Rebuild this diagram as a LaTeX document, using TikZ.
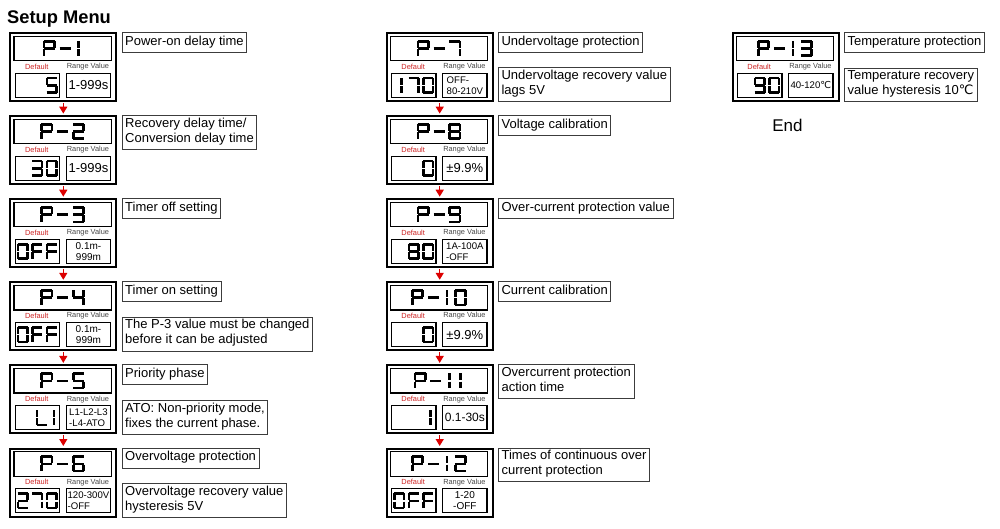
\documentclass[tikz,border=0pt]{standalone}
\usepackage{fontspec}
\setmainfont{Liberation Sans}
\newfontfamily\symfont{DejaVu Sans}
\usetikzlibrary{
	arrows.meta,
	positioning
}
\definecolor{FlowRed}{RGB}{220,0,0}
\definecolor{LabelRed}{RGB}{205,35,35}
\definecolor{LabelGray}{RGB}{70,70,70}
\definecolor{NoteGray}{RGB}{60,60,60}

% 七段显示：单个笔画
\newcommand{\lcdsega}{\draw[lcdline] (1.0,1.3) -- (11.0,1.3);}
\newcommand{\lcdsegb}{\draw[lcdline] (10.7,1.0) -- (10.7,7.8);}
\newcommand{\lcdsegc}{\draw[lcdline] (10.7,9.2) -- (10.7,16.0);}
\newcommand{\lcdsegd}{\draw[lcdline] (1.0,15.7) -- (11.0,15.7);}
\newcommand{\lcdsege}{\draw[lcdline] (1.3,9.2) -- (1.3,16.0);}
\newcommand{\lcdsegf}{\draw[lcdline] (1.3,1.0) -- (1.3,7.8);}
\newcommand{\lcdsegg}{\draw[lcdline] (1.0,8.5) -- (11.0,8.5);}
\newcommand{\lcdsegi}{\draw[lcdline] (3.6,1.0) -- (3.6,7.8) (3.6,9.2) -- (3.6,16.0);}

% 字符：名称 / 步进 / 笔画
\newcommand{\lcddef}[3]{%
	\expandafter\def\csname lcdg#1\endcsname{#3}%
	\expandafter\def\csname lcdw#1\endcsname{#2}}
\lcddef{P}{14.5}{\lcdsega\lcdsegb\lcdsegf\lcdsegg\lcdsege}
\lcddef{-}{14.5}{\lcdsegg}
\lcddef{0}{14.5}{\lcdsega\lcdsegb\lcdsegc\lcdsegd\lcdsege\lcdsegf}
\lcddef{1}{10}{\lcdsegi}
\lcddef{2}{14.5}{\lcdsega\lcdsegb\lcdsegg\lcdsege\lcdsegd}
\lcddef{3}{14.5}{\lcdsega\lcdsegb\lcdsegg\lcdsegc\lcdsegd}
\lcddef{4}{14.5}{\lcdsegf\lcdsegg\lcdsegb\lcdsegc}
\lcddef{5}{14.5}{\lcdsega\lcdsegf\lcdsegg\lcdsegc\lcdsegd}
\lcddef{6}{14.5}{\lcdsega\lcdsegf\lcdsegg\lcdsege\lcdsegc\lcdsegd}
\lcddef{7}{14.5}{\lcdsega\lcdsegb\lcdsegc}
\lcddef{8}{14.5}{\lcdsega\lcdsegb\lcdsegc\lcdsegd\lcdsege\lcdsegf\lcdsegg}
\lcddef{9}{14.5}{\lcdsega\lcdsegb\lcdsegc\lcdsegd\lcdsegf\lcdsegg}
\lcddef{F}{14.5}{\lcdsega\lcdsegf\lcdsegg\lcdsege}
\lcddef{L}{14.5}{\lcdsegf\lcdsege\lcdsegd}

% 字符串宽度
\newcommand{\lcdmeasure}[1]{%
	\gdef\lcdtotal{-2.5}%
	\foreach \g in {#1}{%
		\edef\lcdadv{\csname lcdw\g\endcsname}%
		\pgfmathsetmacro\lcdtmp{\lcdtotal+\lcdadv}%
		\global\let\lcdtotal\lcdtmp}}
% 逐字绘制
\newcommand{\lcdrun}[3]{%
	\xdef\lcdx{#1}%
	\foreach \g in {#3}{%
		\begin{scope}[shift={(\lcdx,#2)}]
			\csname lcdg\g\endcsname
		\end{scope}
		\edef\lcdadv{\csname lcdw\g\endcsname}%
		\pgfmathsetmacro\lcdtmp{\lcdx+\lcdadv}%
		\global\let\lcdx\lcdtmp}}
\newcommand{\lcdcenter}[2]{%
	\lcdmeasure{#2}%
	\begin{scope}[shift={(#1)}, xscale=1.1]
		\pgfmathsetmacro\lcdstart{-\lcdtotal/2}
		\lcdrun{\lcdstart}{-8.5}{#2}
	\end{scope}}
\newcommand{\lcdright}[2]{%
	\lcdmeasure{#2}%
	\begin{scope}[shift={(#1)}]
		\pgfmathsetmacro\lcdstart{-2.5-\lcdtotal}
		\lcdrun{\lcdstart}{-8.5}{#2}
	\end{scope}}

% 参数框：名称 / 左上角 / 标题 / 默认值 / 范围样式 / 范围
\newcommand{\setupblock}[6]{%
	\node[blockbox] (#1) at (#2) {};
	\node[screen] (#1-s) at ([shift={(4,3.7)}]#1.north west) {};
	\node[tag, text=LabelRed] (#1-dl) at ([shift={(27.5,34.7)}]#1.north west) {Default};
	\node[tag, text=LabelGray] (#1-rl) at ([shift={(78.7,34.7)}]#1.north west) {Range Value};
	\node[valbox] (#1-v) at ([shift={(5.4,40.7)}]#1.north west) {};
	\node[valbox, #5] (#1-r) at ([shift={(56.4,40.7)}]#1.north west) {#6};
	\lcdcenter{#1-s.center}{#3}
	\lcdright{#1-v.east}{#4}}

\begin{document}
\begin{tikzpicture}[x=1pt, y=-1pt,
	blockbox/.style={draw, line width=2pt, minimum width=106pt, minimum height=68pt, inner sep=0pt, anchor=north west},
	screen/.style={draw, line width=1.2pt, minimum width=97.4pt, minimum height=24.3pt, inner sep=0pt, anchor=north west},
	valbox/.style={draw, line width=1.2pt, minimum width=44.3pt, minimum height=24pt, inner sep=0pt, anchor=north west},
	tag/.style={font=\fontsize{7.4}{8}\selectfont, inner sep=0pt},
	rbig/.style={font=\fontsize{13}{15}\selectfont},
	rmid/.style={font=\fontsize{12}{14}\selectfont},
	rsmall/.style={font=\fontsize{10}{11}\selectfont, align=center},
	rleft/.style={font=\fontsize{9.6}{11}\selectfont, align=left},
	note/.style={draw=NoteGray, line width=0.8pt, font=\fontsize{13}{15}\selectfont, align=left,
		inner xsep=3pt, inner ysep=2.5pt, execute at begin node=\strut, execute at end node=\strut},
	lcdline/.style={line width=2.6pt},
	flow/.style={draw=FlowRed, line width=1.4pt, -{Triangle[width=8pt,length=7pt]}, shorten <=1pt, shorten >=1.5pt}
	]
	\useasboundingbox (0,0) rectangle (1000,529);
	
	\node[anchor=base west, font=\bfseries\fontsize{18.3}{20}\selectfont, inner sep=0pt] (title) at (7,23.5) {Setup Menu};
	
	% 第一列 P-1 ~ P-6
	\setupblock{p1}{9.3,32}{P,-,1}{5}{rbig}{1-999s}
	\setupblock{p2}{9.3,115.1}{P,-,2}{3,0}{rbig}{1-999s}
	\setupblock{p3}{9.3,198.2}{P,-,3}{0,F,F}{rsmall}{0.1m-\\999m}
	\setupblock{p4}{9.3,281.3}{P,-,4}{0,F,F}{rsmall}{0.1m-\\999m}
	\setupblock{p5}{9.3,364.4}{P,-,5}{L,1}{rleft}{L1-L2-L3\\-L4-ATO}
	\setupblock{p6}{9.3,447.5}{P,-,6}{2,7,0}{rleft}{120-300V\\-OFF}
	
	\node[note, anchor=north west] (p1-note) at ([xshift=4.5pt]p1.north east) {Power-on delay time};
	\node[note, anchor=north west] (p2-note) at ([xshift=4.5pt]p2.north east) {Recovery delay time/\\Conversion delay time};
	\node[note, anchor=north west] (p3-note) at ([xshift=4.5pt]p3.north east) {Timer off setting};
	\node[note, anchor=north west] (p4-note) at ([xshift=4.5pt]p4.north east) {Timer on setting};
	\node[note, anchor=south west] (p4-hint) at ([xshift=4.5pt]p4.south east) {The P-3 value must be changed\\before it can be adjusted};
	\node[note, anchor=north west] (p5-note) at ([xshift=4.5pt]p5.north east) {Priority phase};
	\node[note, anchor=south west] (p5-hint) at ([xshift=4.5pt]p5.south east) {ATO: Non-priority mode,\\fixes the current phase.};
	\node[note, anchor=north west] (p6-note) at ([xshift=4.5pt]p6.north east) {Overvoltage protection};
	\node[note, anchor=south west] (p6-hint) at ([xshift=4.5pt]p6.south east) {Overvoltage recovery value\\hysteresis 5V};
	
	% 第二列 P-7 ~ P-12
	\setupblock{p7}{385.7,32}{P,-,7}{1,7,0}{rleft}{OFF-\\80-210V}
	\setupblock{p8}{385.7,115.1}{P,-,8}{0}{rbig}{±9.9\%}
	\setupblock{p9}{385.7,198.2}{P,-,9}{8,0}{rleft}{1A-100A\\-OFF}
	\setupblock{p10}{385.7,281.3}{P,-,1,0}{0}{rbig}{±9.9\%}
	\setupblock{p11}{385.7,364.4}{P,-,1,1}{1}{rmid}{0.1-30s}
	\setupblock{p12}{385.7,447.5}{P,-,1,2}{0,F,F}{rsmall}{1-20\\-OFF}
	
	\node[note, anchor=north west] (p7-note) at ([xshift=4.5pt]p7.north east) {Undervoltage protection};
	\node[note, anchor=south west] (p7-hint) at ([xshift=4.5pt]p7.south east) {Undervoltage recovery value\\lags 5V};
	\node[note, anchor=north west] (p8-note) at ([xshift=4.5pt]p8.north east) {Voltage calibration};
	\node[note, anchor=north west] (p9-note) at ([xshift=4.5pt]p9.north east) {Over-current protection value};
	\node[note, anchor=north west] (p10-note) at ([xshift=4.5pt]p10.north east) {Current calibration};
	\node[note, anchor=north west] (p11-note) at ([xshift=4.5pt]p11.north east) {Overcurrent protection\\action time};
	\node[note, anchor=north west] (p12-note) at ([xshift=4.5pt]p12.north east) {Times of continuous over\\current protection};
	
	% 第三列 P-13
	\setupblock{p13}{731.7,32}{P,-,1,3}{9,0}{rleft}{40-120{\symfont ℃}}
	\node[note, anchor=north west] (p13-note) at ([xshift=4.5pt]p13.north east) {Temperature protection};
	\node[note, anchor=south west] (p13-hint) at ([xshift=4.5pt]p13.south east) {Temperature recovery\\value hysteresis 10{\symfont ℃}};
	
	\node[anchor=base, font=\fontsize{17}{20}\selectfont, inner sep=0pt] (finish) at (787.5,131.7) {End};
	
	% 流程箭头
	\foreach \a/\b in {p1/p2,p2/p3,p3/p4,p4/p5,p5/p6,p7/p8,p8/p9,p9/p10,p10/p11,p11/p12}
		\draw[flow] (\a.south) -- (\b.north);
\end{tikzpicture}
\end{document}
